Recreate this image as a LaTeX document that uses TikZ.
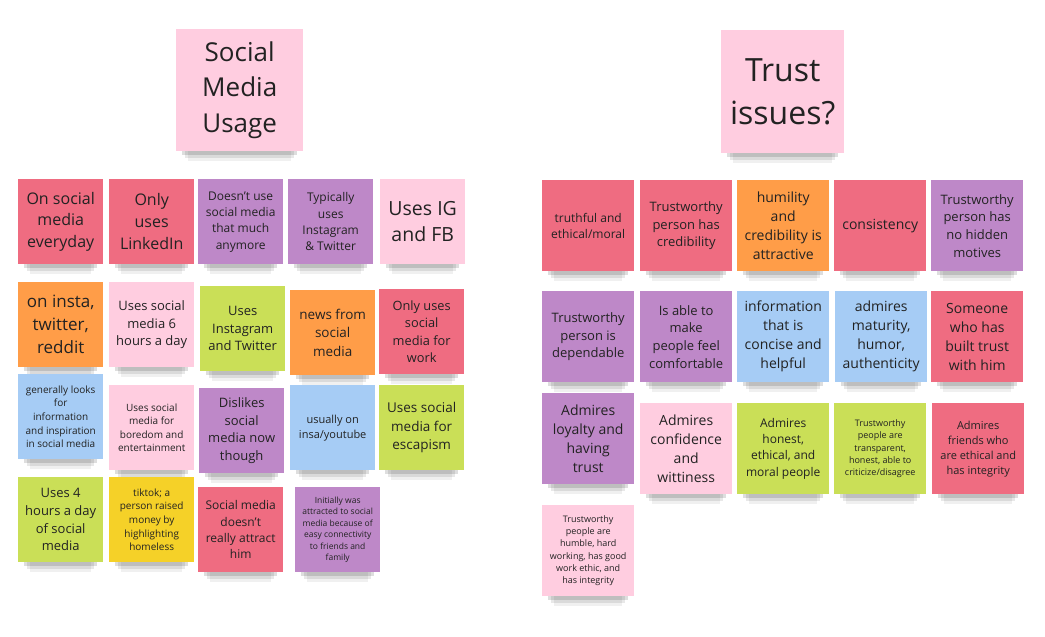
\documentclass[tikz,border=0pt]{standalone}
\usepackage{fontspec}
\setmainfont{Open Sans}
\usetikzlibrary{backgrounds}
\definecolor{nred}{HTML}{EF6C81}
\definecolor{npink}{HTML}{FFCDE0}
\definecolor{npurple}{HTML}{BE88C8}
\definecolor{norange}{HTML}{FF9D48}
\definecolor{ngreen}{HTML}{CADF57}
\definecolor{nblue}{HTML}{A6CCF5}
\definecolor{nyellow}{HTML}{F5D128}
\definecolor{ink}{HTML}{222222}
\newcommand\notefs[1]{\fontsize{#1}{\dimexpr #1pt*136/100\relax}\selectfont}
\tikzset{
  sticky/.style={fill=#1, anchor=north west, align=center, text=ink, inner sep=1pt},
  lnote/.style={sticky=#1, minimum width=85pt, minimum height=85pt},
  rnote/.style={sticky=#1, minimum width=92pt, minimum height=91pt},
  fs/.style={font=\notefs{#1}},
  shade1/.style={fill=black, opacity=0.06},
  shade2/.style={fill=black, opacity=0.09},
  shade3/.style={fill=black, opacity=0.13}
}
\begin{document}
\begin{tikzpicture}[x=1pt,y=-1pt]
\useasboundingbox (0,0) rectangle (1045,637);
% titles
\node[sticky=npink, minimum width=127pt, minimum height=122pt, fs=26] (t1) at (176,29) {Social\\Media\\Usage};
\node[sticky=npink, minimum width=123pt, minimum height=123pt, fs=32] (t2) at (721,30) {Trust\\issues?};
% left group row 1
\node[lnote=nred, fs=16] (l1) at (18,179) {On social\\media\\everyday};
\node[lnote=nred, fs=16] (l2) at (109,179) {Only\\uses\\LinkedIn};
\node[lnote=npurple, fs=12] (l3) at (198,179) {Doesn't use\\social media\\that much\\anymore};
\node[lnote=npurple, fs=12] (l4) at (288,179) {Typically\\uses\\Instagram\\\& Twitter};
\node[lnote=npink, fs=19.5] (l5) at (380,179) {Uses IG\\and FB};
% row 2
\node[lnote=norange, fs=17] (l6) at (18,282) {on insta,\\twitter,\\reddit};
\node[lnote=npink, fs=13] (l7) at (109,282) {Uses social\\media 6\\hours a day};
\node[lnote=ngreen, fs=13] (l8) at (200,286) {Uses\\Instagram\\and Twitter};
\node[lnote=norange, fs=13.5] (l9) at (290,290) {news from\\social\\media};
\node[lnote=nred, fs=12.8] (l10) at (379,289) {Only uses\\social\\media for\\work};
% row 3
\node[lnote=nblue, fs=10] (l11) at (18,374) {generally looks\\for\\information\\and inspiration\\in social media};
\node[lnote=npink, fs=10] (l12) at (109,385) {Uses social\\media for\\boredom and\\entertainment};
\node[lnote=npurple, fs=13] (l13) at (199,388) {Dislikes\\social\\media now\\though};
\node[lnote=nblue, fs=11] (l14) at (290,385) {usually on\\insa/youtube};
\node[lnote=ngreen, fs=13.5] (l15) at (379,385) {Uses social\\media for\\escapism};
% row 4
\node[lnote=ngreen, fs=13] (l16) at (18,477) {Uses 4\\hours a day\\of social\\media};
\node[lnote=nyellow, fs=10] (l17) at (109,477) {tiktok; a\\person raised\\money by\\highlighting\\homeless};
\node[lnote=nred, fs=12] (l18) at (198,487) {Social media\\doesn't\\really attract\\him};
\node[lnote=npurple, fs=8.5] (l19) at (295,487) {Initially was\\attracted to social\\media because of\\easy connectivity\\to friends and\\family};
% right group row 1
\node[rnote=nred, fs=12] (r1) at (542,180) {truthful and\\ethical/moral};
\node[rnote=nred, fs=13] (r2) at (640,180) {Trustworthy\\person has\\credibility};
\node[rnote=norange, fs=14] (r3) at (737,180) {humility\\and\\credibility is\\attractive};
\node[rnote=nred, fs=14] (r4) at (834,180) {consistency};
\node[rnote=npurple, fs=13] (r5) at (931,180) {Trustworthy\\person has\\no hidden\\motives};
% row 2
\node[rnote=npurple, fs=13] (r6) at (542,291) {Trustworthy\\person is\\dependable};
\node[rnote=npurple, fs=13] (r7) at (640,291) {Is able to\\make\\people feel\\comfortable};
\node[rnote=nblue, fs=14] (r8) at (737,291) {information\\that is\\concise and\\helpful};
\node[rnote=nblue, fs=14] (r9) at (835,291) {admires\\maturity,\\humor,\\authenticity};
\node[rnote=nred, fs=14] (r10) at (931,291) {Someone\\who has\\built trust\\with him};
% row 3
\node[rnote=npurple, fs=14] (r11) at (542,393) {Admires\\loyalty and\\having\\trust};
\node[rnote=npink, fs=14] (r12) at (640,403) {Admires\\confidence\\and\\wittiness};
\node[rnote=ngreen, fs=12] (r13) at (737,403) {Admires\\honest,\\ethical, and\\moral people};
\node[rnote=ngreen, fs=9] (r14) at (834,403) {Trustworthy\\people are\\transparent,\\honest, able to\\criticize/disagree};
\node[rnote=nred, fs=11] (r15) at (932,403) {Admires\\friends who\\are ethical and\\has integrity};
% row 4
\node[rnote=npink, fs=9] (r16) at (542,505) {Trustworthy\\people are\\humble, hard\\working, has good\\work ethic, and\\has integrity};
% soft shadows under the notes
\begin{scope}[on background layer]
\foreach \n in {t1,t2,l1,l2,l3,l4,l5,l6,l7,l8,l9,l10,l11,l12,l13,l14,l15,l16,l17,l18,l19,r1,r2,r3,r4,r5,r6,r7,r8,r9,r10,r11,r12,r13,r14,r15,r16}{
  \fill[shade1] ([xshift=12pt]\n.south west) rectangle ([xshift=-12pt,yshift=-10pt]\n.south east);
  \fill[shade2] ([xshift=9pt]\n.south west) rectangle ([xshift=-9pt,yshift=-7pt]\n.south east);
  \fill[shade3] ([xshift=6pt]\n.south west) rectangle ([xshift=-6pt,yshift=-4pt]\n.south east);
}
\end{scope}
\end{tikzpicture}
\end{document}
